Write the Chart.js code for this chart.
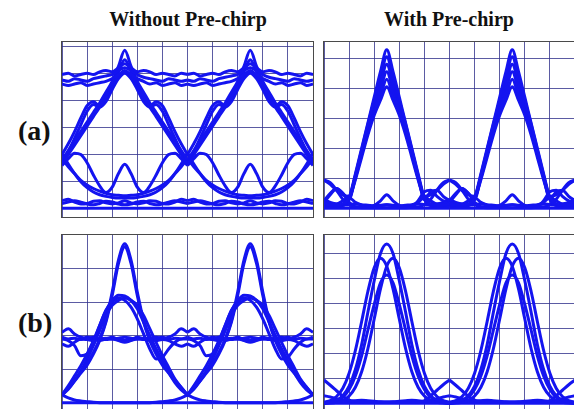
<!DOCTYPE html>
<html lang="en">
<head>
<meta charset="UTF-8">
<title>Eye diagrams with and without pre-chirp</title>
<script src="https://cdn.jsdelivr.net/npm/chart.js"></script>
<style>
  html, body { margin: 0; padding: 0; width: 574px; height: 409px; overflow: hidden; background: #fff; }
  .panel { position: absolute; outline: 1px solid #4a4a4a; }
  .lbl { position: absolute; font-family: "Liberation Serif", "Times New Roman", serif; font-weight: bold; color: #111; white-space: nowrap; }
</style>
</head>
<body>
<div class="lbl" style="left:88px;width:200px;top:8px;font-size:20px;text-align:center">Without Pre-chirp</div>
<div class="lbl" style="left:349px;width:200px;top:8px;font-size:20px;text-align:center">With Pre-chirp</div>
<div class="lbl" style="left:18px;top:115px;font-size:28px">(a)</div>
<div class="lbl" style="left:18px;top:307px;font-size:28px">(b)</div>

<canvas id="a1" class="panel" width="251" height="175" style="left:62px;top:42px"></canvas>
<canvas id="a2" class="panel" width="251" height="175" style="left:324px;top:42px"></canvas>
<canvas id="b1" class="panel" width="251" height="174" style="left:62px;top:235px"></canvas>
<canvas id="b2" class="panel" width="251" height="174" style="left:324px;top:235px"></canvas>

<script>
// time samples across one bit pair (the second eye reuses them on a shifted axis)
const xs = [0, 0.25, 0.5, 0.75, 1, 1.25, 1.5, 1.75, 2, 2.25, 2.5, 2.75, 3, 3.25, 3.5, 3.75, 4, 4.25, 4.5, 4.75, 5];
const xGrid = [0, 1, 2, 3, 4, 5, 6, 7, 8, 9, 10];

// (a) without pre-chirp
const a1Top1 = [4.95, 5.0, 4.9, 4.95, 5.0, 4.95, 5.05, 5.1, 5.05, 5.2, 5.35, 5.2, 5.05, 5.1, 5.05, 4.95, 5.0, 4.95, 4.9, 5.0, 4.95];
const a1Top2 = [4.75, 4.7, 4.8, 4.75, 4.7, 4.8, 4.85, 4.9, 4.95, 5.1, 5.2, 5.1, 4.95, 4.85, 4.8, 4.75, 4.7, 4.8, 4.75, 4.7, 4.75];
const a1Top3 = [4.6, 4.55, 4.6, 4.65, 4.55, 4.6, 4.65, 4.7, 4.8, 4.95, 5.05, 4.95, 4.8, 4.7, 4.6, 4.65, 4.55, 4.6, 4.65, 4.55, 4.6];
const a1Peak1 = [1.8, 2.15, 2.5, 2.85, 3.2, 3.55, 3.9, 4.3, 4.7, 5.25, 5.85, 5.25, 4.7, 4.3, 3.9, 3.55, 3.2, 2.85, 2.5, 2.15, 1.8];
const a1Peak2 = [1.65, 2.0, 2.35, 2.7, 3.05, 3.4, 3.75, 4.15, 4.55, 5.05, 5.5, 5.05, 4.55, 4.15, 3.75, 3.4, 3.05, 2.7, 2.35, 2.0, 1.65];
const a1Shoulder1 = [2.0, 2.4, 2.85, 3.35, 3.8, 3.95, 3.8, 4.1, 4.5, 4.9, 5.1, 4.9, 4.5, 4.1, 3.8, 3.95, 3.8, 3.35, 2.85, 2.4, 2.0];
const a1Shoulder2 = [1.7, 2.1, 2.6, 3.1, 3.6, 3.85, 3.75, 3.95, 4.4, 4.8, 5.0, 4.8, 4.4, 3.95, 3.75, 3.85, 3.6, 3.1, 2.6, 2.1, 1.7];
const a1Bump = [1.6, 1.85, 2.05, 2.0, 1.7, 1.25, 0.85, 0.6, 0.8, 1.3, 1.64, 1.3, 0.8, 0.6, 0.85, 1.25, 1.7, 2.0, 2.05, 1.85, 1.6];
const a1Bowl1 = [1.85, 1.55, 1.3, 1.05, 0.88, 0.75, 0.65, 0.57, 0.52, 0.5, 0.48, 0.5, 0.52, 0.57, 0.65, 0.75, 0.88, 1.05, 1.3, 1.55, 1.85];
const a1Bowl2 = [2.05, 1.65, 1.3, 1.0, 0.78, 0.62, 0.52, 0.46, 0.42, 0.4, 0.4, 0.4, 0.42, 0.46, 0.52, 0.62, 0.78, 1.0, 1.3, 1.65, 2.05];
const a1Low1 = [0.3, 0.35, 0.25, 0.18, 0.2, 0.28, 0.3, 0.22, 0.18, 0.22, 0.3, 0.22, 0.18, 0.22, 0.3, 0.28, 0.2, 0.18, 0.25, 0.35, 0.3];
const a1Low2 = [0.2, 0.25, 0.3, 0.25, 0.18, 0.15, 0.2, 0.28, 0.25, 0.18, 0.15, 0.18, 0.25, 0.28, 0.2, 0.15, 0.18, 0.25, 0.3, 0.25, 0.2];
const a1Base = [0.02, 0.02, 0.02, 0.02, 0.02, 0.02, 0.02, 0.02, 0.02, 0.02, 0.02, 0.02, 0.02, 0.02, 0.02, 0.02, 0.02, 0.02, 0.02, 0.02, 0.02];

// (a) with pre-chirp
const a2PeakA = [0.15, 0.1, 0.1, 0.15, 0.35, 1.15, 2.0, 2.85, 3.7, 4.55, 5.28, 4.55, 3.7, 2.85, 2.0, 1.15, 0.35, 0.15, 0.1, 0.1, 0.15];
const a2PeakB = [0.94, 0.8, 0.6, 0.45, 0.4, 1.1, 1.95, 2.8, 3.6, 4.35, 5.05, 4.35, 3.6, 2.8, 1.95, 1.1, 0.4, 0.45, 0.6, 0.8, 0.94];
const a2PeakC = [0.25, 0.5, 0.66, 0.5, 0.3, 1.05, 1.85, 2.7, 3.5, 4.15, 4.8, 4.15, 3.5, 2.7, 1.85, 1.05, 0.3, 0.55, 0.6, 0.4, 0.25];
const a2PeakD = [0.05, 0.05, 0.05, 0.1, 0.3, 1.0, 1.8, 2.6, 3.35, 3.95, 4.55, 3.95, 3.35, 2.6, 1.8, 1.0, 0.3, 0.1, 0.05, 0.05, 0.05];
const a2PeakE = [0.2, 0.15, 0.1, 0.1, 0.35, 1.05, 1.8, 2.55, 3.25, 3.75, 4.3, 3.75, 3.25, 2.55, 1.8, 1.05, 0.35, 0.1, 0.1, 0.15, 0.2];
const a2PeakF = [0.1, 0.1, 0.1, 0.12, 0.3, 0.95, 1.7, 2.45, 3.1, 3.6, 4.05, 3.6, 3.1, 2.45, 1.7, 0.95, 0.3, 0.12, 0.1, 0.1, 0.1];
const a2Hill = [0.94, 0.85, 0.6, 0.3, 0.12, 0.05, 0.05, 0.05, 0.1, 0.25, 0.45, 0.25, 0.1, 0.05, 0.05, 0.05, 0.12, 0.3, 0.6, 0.85, 0.94];
const a2BumpA = [0.2, 0.45, 0.66, 0.5, 0.2, 0.05, 0.02, 0.02, 0.02, 0.02, 0.02, 0.02, 0.02, 0.02, 0.05, 0.25, 0.55, 0.6, 0.4, 0.25, 0.2];
const a2BumpB = [0.3, 0.2, 0.15, 0.25, 0.35, 0.2, 0.1, 0.05, 0.05, 0.08, 0.12, 0.08, 0.05, 0.05, 0.1, 0.2, 0.35, 0.25, 0.15, 0.2, 0.3];
const a2Base1 = [0.12, 0.1, 0.08, 0.1, 0.12, 0.15, 0.12, 0.1, 0.08, 0.1, 0.12, 0.1, 0.08, 0.1, 0.12, 0.15, 0.12, 0.1, 0.08, 0.1, 0.12];
const a2Base2 = [0, 0, 0, 0, 0, 0, 0, 0, 0, 0, 0, 0, 0, 0, 0, 0, 0, 0, 0, 0, 0];

// (b) without pre-chirp
const b1Tall1 = [0.23, 0.45, 0.68, 0.92, 1.17, 1.5, 1.9, 2.45, 3.3, 4.25, 4.74, 4.25, 3.3, 2.45, 1.9, 1.5, 1.17, 0.92, 0.68, 0.45, 0.23];
const b1Tall2 = [0.23, 0.42, 0.64, 0.88, 1.12, 1.45, 1.85, 2.4, 3.2, 4.15, 4.65, 4.15, 3.2, 2.4, 1.85, 1.45, 1.12, 0.88, 0.64, 0.42, 0.23];
const b1Med1 = [0.23, 0.5, 0.8, 1.1, 1.45, 1.85, 2.3, 2.75, 3.05, 3.2, 3.18, 3.05, 2.8, 2.4, 2.0, 1.6, 1.25, 0.9, 0.6, 0.38, 0.23];
const b1Med2 = [0.23, 0.4, 0.65, 0.95, 1.3, 1.7, 2.15, 2.6, 2.9, 3.05, 3.12, 3.05, 2.9, 2.6, 2.2, 1.8, 1.4, 1.05, 0.7, 0.45, 0.23];
const b1Med3 = [1.9, 1.85, 1.7, 1.4, 1.45, 1.8, 2.3, 2.75, 3.0, 3.12, 3.05, 2.85, 2.5, 2.05, 1.6, 1.3, 1.35, 1.6, 1.8, 1.9, 1.9];
const b1Band1 = [2.1, 2.2, 2.05, 1.95, 1.92, 1.95, 1.9, 1.88, 1.9, 1.85, 1.8, 1.85, 1.9, 1.88, 1.9, 1.95, 1.92, 1.95, 2.05, 2.2, 2.1];
const b1Band2 = [1.75, 1.68, 1.8, 1.9, 1.88, 1.85, 1.9, 1.92, 1.9, 1.92, 1.95, 1.92, 1.9, 1.92, 1.9, 1.85, 1.88, 1.85, 1.75, 1.68, 1.75];
const b1Band3 = [1.95, 1.9, 1.92, 1.88, 1.95, 1.9, 1.85, 1.9, 1.95, 1.88, 1.85, 1.88, 1.95, 1.9, 1.85, 1.9, 1.95, 1.88, 1.92, 1.9, 1.95];
const b1Floor = [0.23, 0.14, 0.08, 0.05, 0.03, 0.01, 0, 0, 0, 0, 0, 0, 0, 0, 0, 0.01, 0.03, 0.05, 0.08, 0.14, 0.23];
const b1Base = [0, 0, 0, 0, 0, 0, 0, 0, 0, 0, 0, 0, 0, 0, 0, 0, 0, 0, 0, 0, 0];

// (b) with pre-chirp
const b2Peak1 = [0.0, 0.04, 0.12, 0.3, 0.68, 1.35, 2.35, 3.65, 4.9, 5.99, 6.37, 5.99, 4.9, 3.65, 2.35, 1.35, 0.68, 0.3, 0.12, 0.04, 0.0];
const b2Peak2 = [0.04, 0.11, 0.27, 0.6, 1.2, 2.11, 3.27, 4.48, 5.42, 5.8, 5.48, 4.57, 3.37, 2.19, 1.26, 0.64, 0.29, 0.11, 0.04, 0.01, 0.0];
const b2Peak3 = [0.0, 0.01, 0.04, 0.11, 0.29, 0.64, 1.26, 2.19, 3.37, 4.57, 5.48, 5.8, 5.42, 4.48, 3.27, 2.11, 1.2, 0.6, 0.27, 0.11, 0.04];
const b2Peak4 = [0.0, 0.03, 0.1, 0.24, 0.55, 1.09, 1.9, 2.93, 3.95, 4.82, 5.13, 4.82, 3.95, 2.93, 1.9, 1.09, 0.55, 0.24, 0.1, 0.03, 0.0];
const b2Hill = [0.93, 0.72, 0.5, 0.28, 0.12, 0.08, 0.06, 0.05, 0.05, 0.05, 0.05, 0.05, 0.05, 0.05, 0.05, 0.06, 0.1, 0.3, 0.52, 0.74, 0.93];
const b2Low = [0.3, 0.25, 0.18, 0.12, 0.08, 0.1, 0.12, 0.1, 0.08, 0.06, 0.05, 0.06, 0.08, 0.1, 0.12, 0.1, 0.08, 0.12, 0.18, 0.25, 0.3];
const b2Base = [0, 0, 0, 0, 0, 0, 0, 0, 0, 0, 0, 0, 0, 0, 0, 0, 0, 0, 0, 0, 0];

const traceBlue = '#1414f0';
const gridColor = 'rgba(50, 50, 140, 0.8)';

// each trace is drawn twice: once on x (0..10) and once on x2 (-5..5), i.e. the second eye
function makeSets(list, width) {
  const sets = [];
  list.forEach(ys => {
    ['x', 'x2'].forEach(axis => {
      sets.push({
        data: xs.map((x, i) => ({ x: x, y: ys[i] })),
        xAxisID: axis,
        borderColor: traceBlue,
        borderWidth: width,
        pointRadius: 0,
        cubicInterpolationMode: 'monotone',
        fill: false
      });
    });
  });
  return sets;
}

function drawEye(id, traces, yMin, yMax, yGrid) {
  new Chart(document.getElementById(id), {
    type: 'line',
    data: { datasets: makeSets(traces, 3) },
    options: {
      responsive: false,
      animation: false,
      events: [],
      layout: { padding: 0 },
      plugins: { legend: { display: false }, tooltip: { enabled: false } },
      scales: {
        x: {
          type: 'linear', min: 0, max: 10,
          afterBuildTicks: s => { s.ticks = xGrid.map(v => ({ value: v })); },
          ticks: { display: false },
          grid: { color: gridColor, lineWidth: 1, drawTicks: false },
          border: { display: false }
        },
        x2: { type: 'linear', min: -5, max: 5, display: false },
        y: {
          type: 'linear', min: yMin, max: yMax,
          afterBuildTicks: s => { s.ticks = yGrid.map(v => ({ value: v })); },
          ticks: { display: false },
          grid: { color: gridColor, lineWidth: 1, drawTicks: false },
          border: { display: false }
        }
      }
    }
  });
}

drawEye('a1', [a1Top1, a1Top2, a1Top3, a1Peak1, a1Peak2, a1Shoulder1, a1Shoulder2, a1Bump, a1Bowl1, a1Bowl2, a1Low1, a1Low2, a1Base],
  -0.3, 6.15, [0, 1, 2, 3, 4, 5, 6]);
drawEye('a2', [a2PeakA, a2PeakB, a2PeakC, a2PeakD, a2PeakE, a2PeakF, a2Hill, a2BumpA, a2BumpB, a2Base1, a2Base2],
  -0.29, 5.54, [0, 1, 2, 3, 4, 5]);
drawEye('b1', [b1Tall1, b1Tall2, b1Med1, b1Med2, b1Med3, b1Band1, b1Band2, b1Band3, b1Floor, b1Base],
  -0.19, 5.0, [0, 1, 2, 3, 4]);
drawEye('b2', [b2Peak1, b2Peak2, b2Peak3, b2Peak4, b2Hill, b2Low, b2Base],
  -0.23, 6.73, [0, 1, 2, 3, 4, 5, 6]);
</script>
</body>
</html>
